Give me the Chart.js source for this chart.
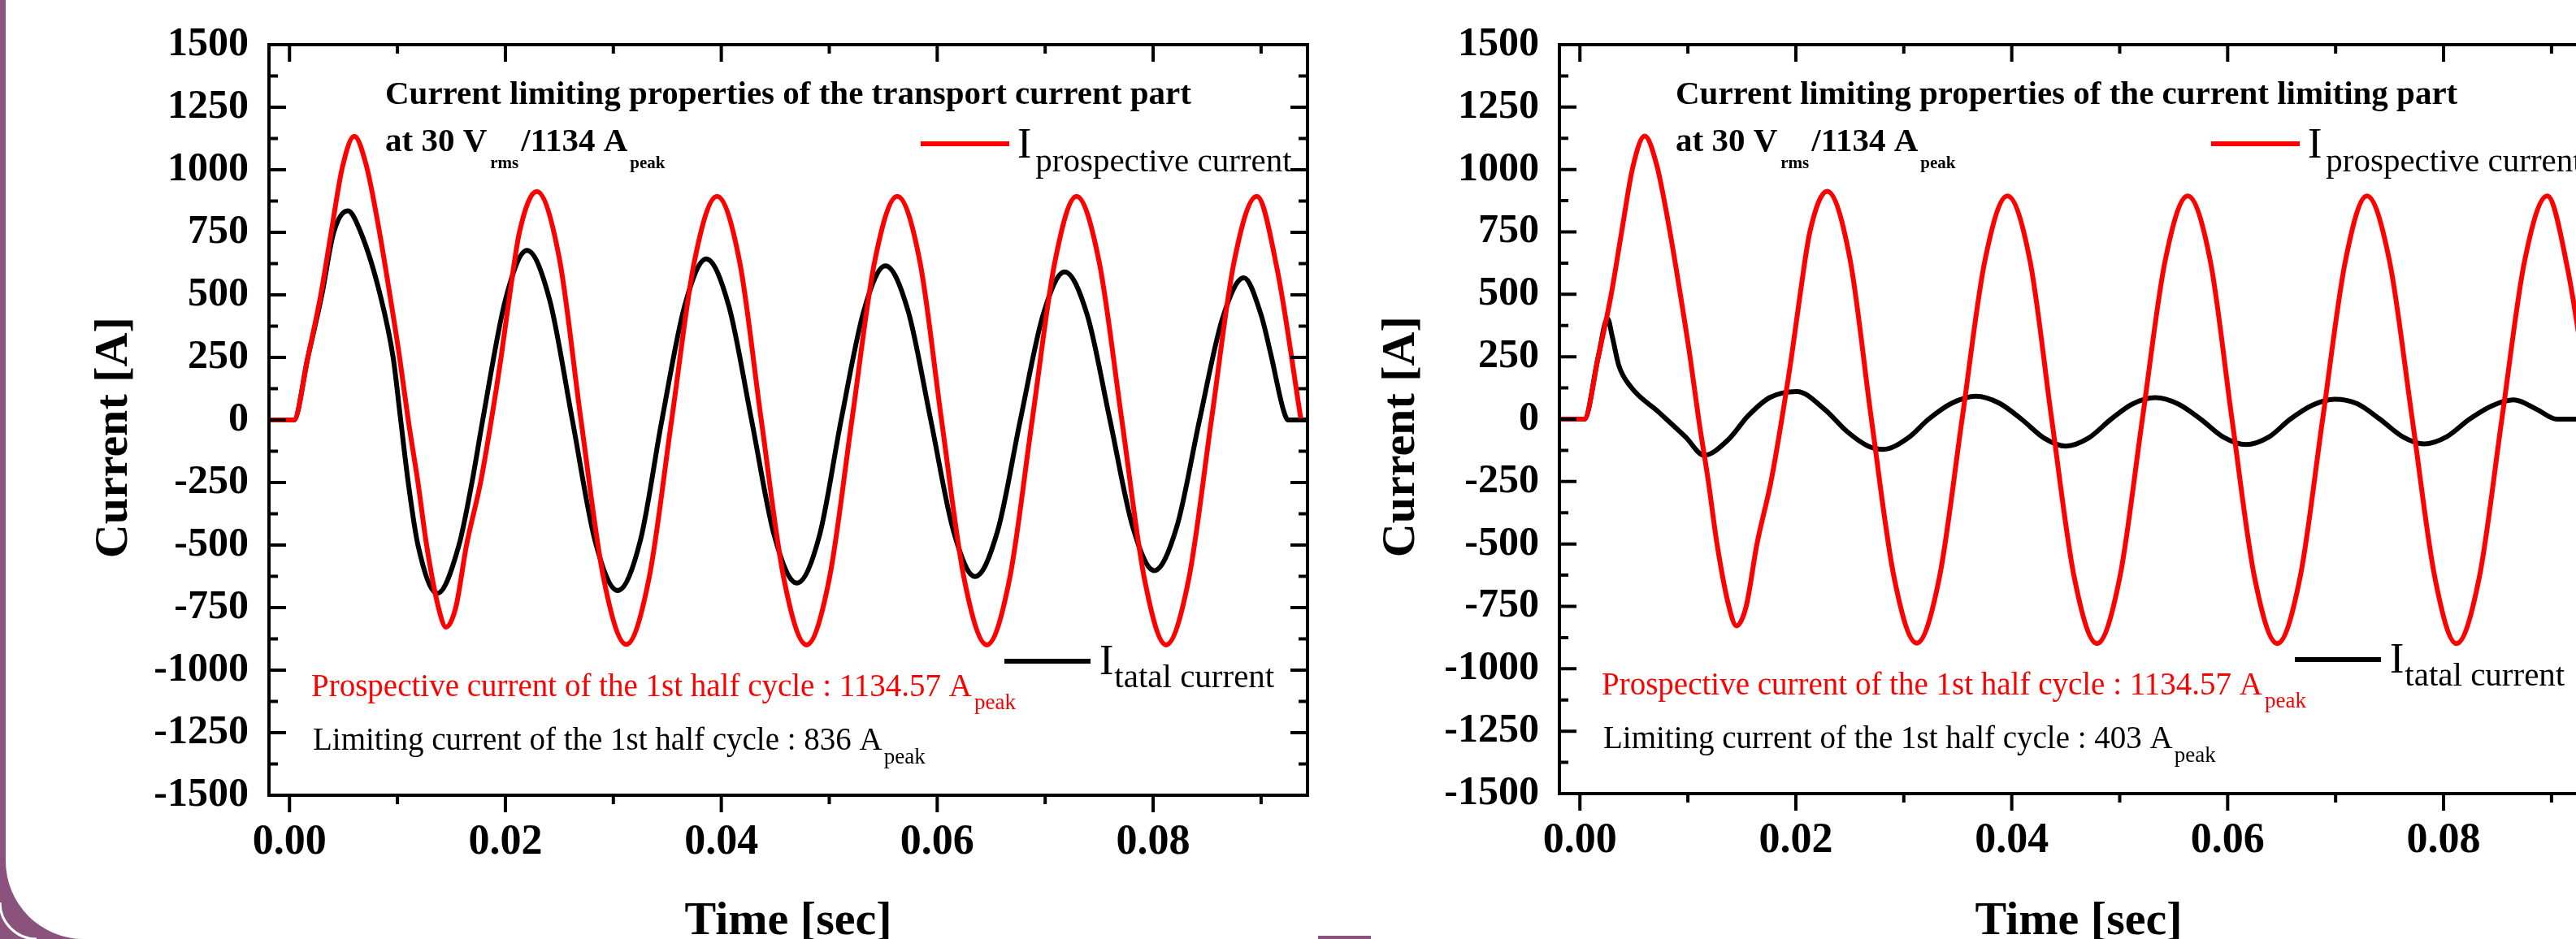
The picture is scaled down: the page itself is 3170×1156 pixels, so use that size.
<!DOCTYPE html>
<html>
<head>
<meta charset="utf-8">
<title>Current limiting properties</title>
<script src="https://cdn.jsdelivr.net/npm/chart.js@4.4.1/dist/chart.umd.min.js"></script>
<style>
  html, body { margin: 0; padding: 0; background: #fff; }
  body { width: 3170px; height: 1156px; overflow: hidden; position: relative; }
  canvas { position: absolute; top: 0; }
  #transport { left: 0; }
  #limiting { left: 1640px; }
  #deco { position: absolute; left: 0; top: 0; }
</style>
</head>
<body>
<svg id="deco" width="3170" height="1156">
  <path d="M0 0 H7 V1060 A96 96 0 0 0 103 1156 H0 Z" fill="#8a527d"/>
  <path d="M0 1111 A45 45 0 0 0 45 1156" stroke="#fff" stroke-width="3" fill="none"/>
  <rect x="1622" y="1152" width="65" height="4" fill="#8a527d"/>
</svg>
<canvas id="transport" width="1660" height="1200"></canvas>
<canvas id="limiting" width="1600" height="1200"></canvas>
<script>
// prospective current (same in both panels)
const timeProspective = [-0.0020, 0.0004, 0.0017, 0.0029, 0.0039, 0.0049, 0.0060, 0.0071, 0.0083, 0.0093,
  0.0102, 0.0110, 0.0119, 0.0127, 0.0138, 0.0145, 0.0154, 0.0164, 0.0177, 0.0187,
  0.0196, 0.0204, 0.0213, 0.0229, 0.0250, 0.0270, 0.0291, 0.0312, 0.0333, 0.0354,
  0.0375, 0.0396, 0.0417, 0.0437, 0.0458, 0.0479, 0.0500, 0.0521, 0.0542, 0.0563,
  0.0584, 0.0604, 0.0625, 0.0646, 0.0667, 0.0688, 0.0709, 0.0729, 0.0750, 0.0771,
  0.0792, 0.0812, 0.0833, 0.0854, 0.0875, 0.0896, 0.0915, 0.0937];
const currentProspective = [0, 0, 250, 500, 760, 1010, 1134, 1020, 760, 500,
  250, 0, -250, -500, -750, -828, -750, -500, -250, 0,
  250, 500, 750, 913, 645, 0, -634, -897, -634, 0,
  632, 894, 632, 0, -636, -899, -636, 0, 632, 894,
  632, 0, -636, -899, -636, 0, 632, 894, 632, 0,
  -636, -899, -636, 0, 632, 894, 600, 0];

// total current, transport current part
const timeTransport = [-0.0020, 0.0004, 0.0017, 0.0030, 0.0041, 0.0054, 0.0066, 0.0084, 0.0096, 0.0103,
  0.0110, 0.0119, 0.0137, 0.0157, 0.0169, 0.0179, 0.0200, 0.0220, 0.0241, 0.0262,
  0.0283, 0.0304, 0.0325, 0.0345, 0.0366, 0.0386, 0.0407, 0.0428, 0.0449, 0.0470,
  0.0491, 0.0511, 0.0532, 0.0552, 0.0573, 0.0594, 0.0615, 0.0635, 0.0656, 0.0677,
  0.0698, 0.0718, 0.0739, 0.0760, 0.0781, 0.0801, 0.0822, 0.0843, 0.0864, 0.0884,
  0.0900, 0.0909, 0.0921, 0.0925, 0.0943];
const currentTransport = [0, 0, 250, 500, 750, 836, 750, 500, 250, 0,
  -250, -500, -693, -500, -250, 0, 480, 678, 480, 0,
  -482, -682, -482, 0, 455, 644, 455, 0, -461, -652,
  -461, 0, 436, 616, 436, 0, -443, -626, -443, 0,
  419, 592, 419, 0, -426, -602, -426, 0, 402, 568,
  420, 263, 35, 0, 0];

// total current, current limiting part
const timeLimiting = [-0.0020, 0.0004, 0.0017, 0.00256, 0.0030, 0.0036, 0.0047, 0.0073, 0.0098, 0.0115,
  0.0137, 0.0156, 0.0176, 0.0201, 0.0227, 0.0247, 0.0267, 0.0281, 0.0304, 0.0323,
  0.0345, 0.0367, 0.0388, 0.0409, 0.0430, 0.0450, 0.0471, 0.0492, 0.0512, 0.0533,
  0.0554, 0.0575, 0.0596, 0.0617, 0.0638, 0.0658, 0.0679, 0.0699, 0.0720, 0.0741,
  0.0762, 0.0782, 0.0803, 0.0824, 0.0845, 0.0865, 0.0886, 0.0905, 0.0943];
const currentLimiting = [0, 0, 250, 403, 330, 215, 130, 28, -72, -145,
  -84, 14, 87, 111, 38, -48, -108, -121, -75, 0,
  65, 92, 65, 0, -76, -108, -76, 0, 61, 86,
  61, 0, -72, -102, -72, 0, 57, 80, 62, 0,
  -70, -99, -70, 0, 54, 77, 40, 0, 0];

const xTicks = [0, 0.02, 0.04, 0.06, 0.08];
const yTicks = [-1500, -1250, -1000, -750, -500, -250, 0, 250, 500, 750, 1000, 1250, 1500];
const X_MIN = -0.0019;
const X_MAX = 0.0943;

const RED = '#ff0000';
const SERIF = '"Liberation Serif", "Times New Roman", serif';

function points(ts, vs) {
  return ts.map((t, i) => ({ x: t, y: vs[i] }));
}

// box + inward ticks (outward on the bottom axis), minor ticks halfway
const frameTicks = {
  id: 'frameTicks',
  afterDatasetsDraw(chart) {
    const { ctx, chartArea: a, scales: { x, y } } = chart;
    const major = 21, minor = 11;
    const yMinor = yTicks.slice(1).map((v, i) => (v + yTicks[i]) / 2);
    const xMinor = xTicks.map(v => v + 0.01).filter(v => v < X_MAX);
    const seg = (x1, y1, x2, y2) => { ctx.moveTo(x1, y1); ctx.lineTo(x2, y2); };
    ctx.save();
    ctx.strokeStyle = '#000';
    ctx.lineWidth = 4;
    ctx.beginPath();
    yTicks.concat(yMinor).forEach((v, i) => {
      const len = i < yTicks.length ? major : minor;
      const p = y.getPixelForValue(v);
      seg(a.left, p, a.left + len, p);
      seg(a.right, p, a.right - len, p);
    });
    xTicks.concat(xMinor).forEach((v, i) => {
      const len = i < xTicks.length ? major : minor;
      const p = x.getPixelForValue(v);
      seg(p, a.top, p, a.top + len);
      seg(p, a.bottom, p, a.bottom + len);
    });
    ctx.stroke();
    ctx.strokeRect(a.left, a.top, a.right - a.left, a.bottom - a.top);
    ctx.restore();
  }
};

function drawRuns(ctx, x, y, color, runs) {
  ctx.fillStyle = color;
  ctx.textAlign = 'left';
  ctx.textBaseline = 'alphabetic';
  runs.forEach(r => {
    ctx.font = r.font;
    x += r.gap || 0;
    ctx.fillText(r.text, x, y + (r.dy || 0));
    x += ctx.measureText(r.text).width;
  });
}

// annotations and the hand-placed legend
const notes = {
  id: 'notes',
  afterDraw(chart, args, o) {
    const { ctx, chartArea: a } = chart;
    const b41 = `bold 41px ${SERIF}`, b21 = `bold 21px ${SERIF}`;
    const r52 = `52px ${SERIF}`, r41 = `41px ${SERIF}`, r39 = `39px ${SERIF}`, r27 = `27px ${SERIF}`;

    drawRuns(ctx, a.left + 143, a.top + 73, '#000', [{ text: o.title, font: b41 }]);
    drawRuns(ctx, a.left + 143, a.top + 131, '#000', [
      { text: 'at 30 V', font: b41 },
      { text: 'rms', font: b21, dy: 21, gap: 4 },
      { text: '/1134 A', font: b41, gap: 3 },
      { text: 'peak', font: b21, dy: 21, gap: 3 }
    ]);

    ctx.save();
    ctx.lineWidth = 6;
    ctx.strokeStyle = RED;
    ctx.beginPath();
    ctx.moveTo(a.left + 802, a.top + 122);
    ctx.lineTo(a.left + 911, a.top + 122);
    ctx.stroke();
    ctx.strokeStyle = '#000';
    ctx.beginPath();
    ctx.moveTo(a.left + 905, a.bottom - 165);
    ctx.lineTo(a.left + 1011, a.bottom - 165);
    ctx.stroke();
    ctx.restore();

    drawRuns(ctx, a.left + 921, a.top + 139, '#000', [
      { text: 'I', font: r52 },
      { text: 'prospective current', font: r41, dy: 17, gap: 5 }
    ]);
    drawRuns(ctx, a.left + 1022, a.bottom - 149, '#000', [
      { text: 'I', font: r52 },
      { text: 'tatal current', font: r41, dy: 16, gap: 1 }
    ]);

    drawRuns(ctx, a.left + 52, a.bottom - 122, RED, [
      { text: `Prospective current of the 1st half cycle : ${o.prospective} A`, font: r39 },
      { text: 'peak', font: r27, dy: 16, gap: 3 }
    ]);
    drawRuns(ctx, a.left + 54, a.bottom - 56, '#000', [
      { text: `Limiting current of the 1st half cycle : ${o.limiting} A`, font: r39 },
      { text: 'peak', font: r27, dy: 17, gap: 2 }
    ]);
  }
};

function makeChart(id, cfg) {
  const tickFont = { family: SERIF, weight: 'bold' };
  return new Chart(document.getElementById(id), {
    type: 'line',
    data: {
      datasets: [
        {
          label: 'I prospective current',
          data: points(timeProspective, currentProspective),
          borderColor: RED
        },
        {
          label: 'I tatal current',
          data: points(cfg.time, cfg.current),
          borderColor: '#000'
        }
      ]
    },
    options: {
      responsive: false,
      animation: false,
      devicePixelRatio: 1,
      layout: { padding: { top: cfg.top, right: cfg.right, left: 0, bottom: 0 } },
      elements: {
        point: { radius: 0 },
        line: { borderWidth: 6, cubicInterpolationMode: 'monotone', borderJoinStyle: 'round', fill: false }
      },
      plugins: {
        legend: { display: false },
        tooltip: { enabled: false },
        notes: { title: cfg.title, prospective: '1134.57', limiting: cfg.peak }
      },
      scales: {
        x: {
          type: 'linear',
          min: X_MIN,
          max: X_MAX,
          afterBuildTicks: s => { s.ticks = xTicks.map(v => ({ value: v })); },
          afterFit: s => { s.height = 1200 - cfg.bottom; },
          grid: { display: false, drawTicks: false },
          border: { display: false },
          ticks: {
            padding: 27, color: '#000', autoSkip: false, maxRotation: 0,
            font: { ...tickFont, size: 52 },
            callback: v => v.toFixed(2)
          },
          title: {
            display: true, text: 'Time [sec]', color: '#000',
            font: { ...tickFont, size: 58 },
            padding: { top: 0, bottom: 30 }
          }
        },
        y: {
          min: -1500,
          max: 1500,
          afterBuildTicks: s => { s.ticks = yTicks.map(v => ({ value: v })); },
          afterFit: s => { s.width = cfg.left; },
          grid: { display: false, drawTicks: false },
          border: { display: false },
          ticks: {
            padding: 25, color: '#000', autoSkip: false,
            font: { ...tickFont, size: 50 },
            callback: v => String(v)
          },
          title: {
            // trailing spaces push the rotated label a little below centre, as in the original
            display: true, text: 'Current [A]   ', color: '#000',
            font: { ...tickFont, size: 58 },
            padding: { top: cfg.titlePad, bottom: 0 }
          }
        }
      }
    },
    plugins: [frameTicks, notes]
  });
}

makeChart('transport', {
  time: timeTransport, current: currentTransport,
  title: 'Current limiting properties of the transport current part', peak: '836',
  left: 331, top: 30, right: 51, bottom: 979, titlePad: 106
});
makeChart('limiting', {
  time: timeLimiting, current: currentLimiting,
  title: 'Current limiting properties of the current limiting part', peak: '403',
  left: 279, top: 34, right: 43, bottom: 977, titlePad: 50
});
</script>
</body>
</html>
